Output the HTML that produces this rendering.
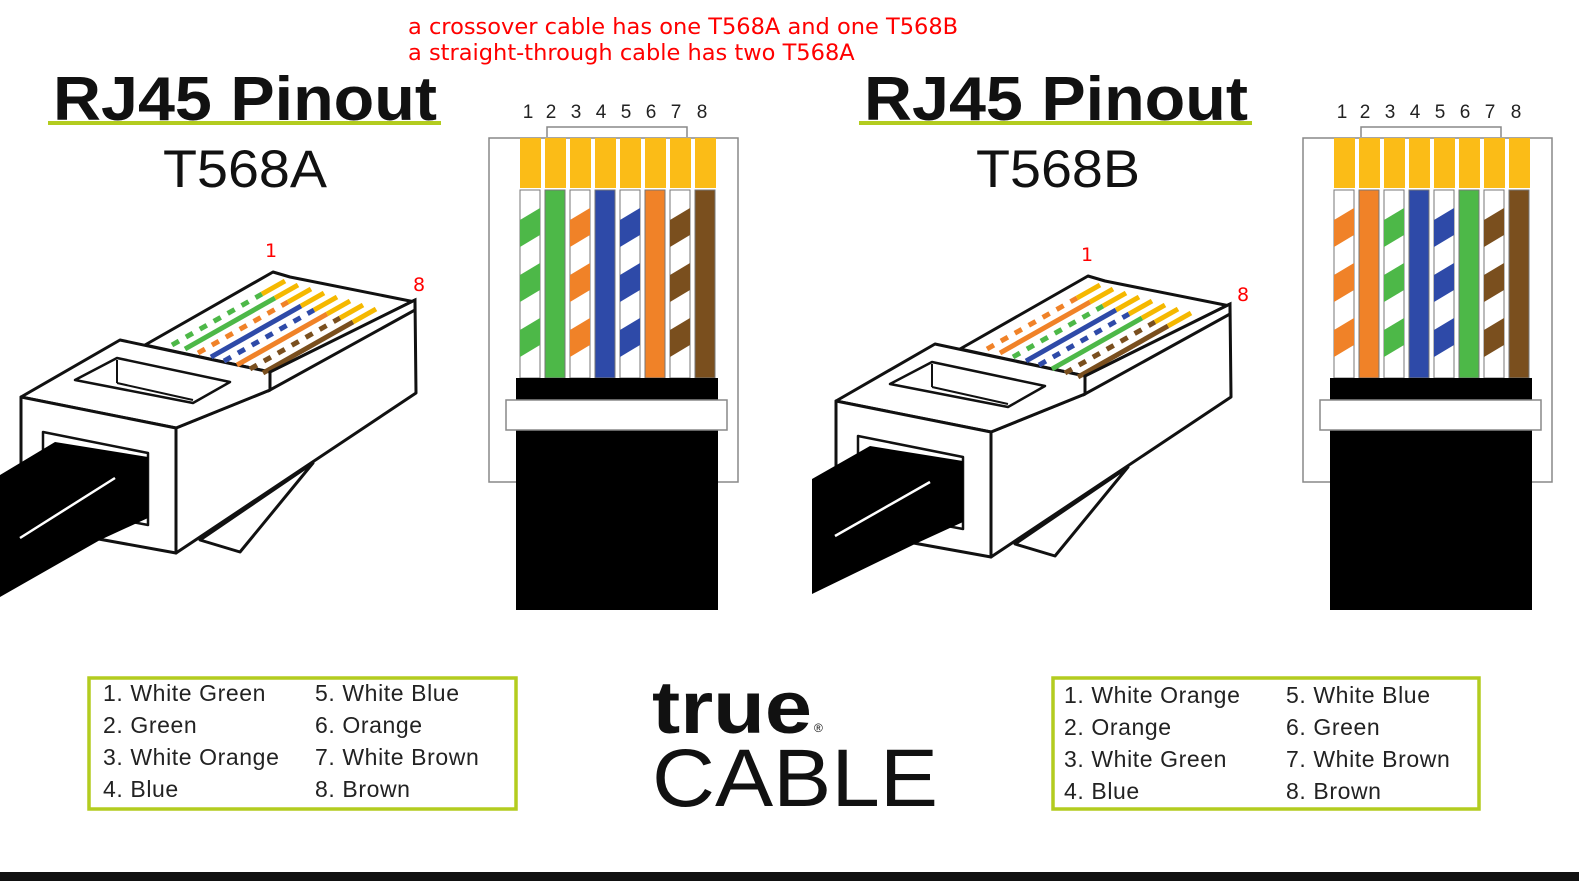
<!DOCTYPE html>
<html><head><meta charset="utf-8"><style>
html,body{margin:0;padding:0;background:#fff}
svg{display:block}
</style></head><body>
<svg width="1579" height="881" viewBox="0 0 1579 881" xmlns="http://www.w3.org/2000/svg" font-family="'Liberation Sans', sans-serif">
<rect width="1579" height="881" fill="#fff"/>
<text x="408" y="34" font-family="'DejaVu Sans', sans-serif" font-size="22.5" fill="#ff0000">a crossover cable has one T568A and one T568B</text>
<text x="408" y="60" font-family="'DejaVu Sans', sans-serif" font-size="22.5" fill="#ff0000">a straight-through cable has two T568A</text>

<g>
<text x="53" y="120" font-size="62" font-weight="bold" textLength="384" lengthAdjust="spacingAndGlyphs" fill="#111">RJ45 Pinout</text>
<rect x="48" y="121" width="393" height="4" fill="#b3cc1f"/>
<text x="163" y="187" font-size="53" textLength="164" lengthAdjust="spacingAndGlyphs" fill="#111">T568A</text>
</g>
<g transform="translate(811,0)">
<text x="53" y="120" font-size="62" font-weight="bold" textLength="384" lengthAdjust="spacingAndGlyphs" fill="#111">RJ45 Pinout</text>
<rect x="48" y="121" width="393" height="4" fill="#b3cc1f"/>
<text x="165" y="187" font-size="53" textLength="164" lengthAdjust="spacingAndGlyphs" fill="#111">T568B</text>
</g>

<g stroke="#111" stroke-width="3" stroke-linejoin="round">
  <polygon points="200,540 313,463 240,552" fill="#fff"/>
  <polygon points="145,345 273,272 290,277 415,302 270,372" fill="#fff"/>
  <polygon points="176,428 270,390 270,372 415,300 416,393 176,553" fill="#fff"/>
  <polygon points="21,397 120,340 270,372 270,390 176,428" fill="#fff"/>
  <polygon points="21,397 176,428 176,553 21,525" fill="#fff"/>
  <polygon points="75,380 117,358 230,382 193,403" fill="#fff" stroke-width="2.5"/>
  <line x1="117" y1="360" x2="117" y2="383" stroke-width="2"/>
  <line x1="117" y1="383" x2="193" y2="400" stroke-width="2"/>
  <polygon points="43,432 148,453 148,525 43,505" fill="#fff" stroke-width="2.5"/>
</g>
<g stroke-width="5" fill="none">
  <line x1="172" y1="345" x2="262" y2="294" stroke="#fff"/><line x1="172" y1="345" x2="262" y2="294" stroke="#4db848" stroke-dasharray="8,8"/>
  <line x1="185" y1="349" x2="275" y2="298" stroke="#4db848"/>
  <line x1="198" y1="353" x2="288" y2="302" stroke="#fff"/><line x1="198" y1="353" x2="288" y2="302" stroke="#f08228" stroke-dasharray="8,8"/>
  <line x1="211" y1="357" x2="301" y2="306" stroke="#2e4aa8"/>
  <line x1="224" y1="361" x2="314" y2="310" stroke="#fff"/><line x1="224" y1="361" x2="314" y2="310" stroke="#2e4aa8" stroke-dasharray="8,8"/>
  <line x1="237" y1="365" x2="327" y2="314" stroke="#f08228"/>
  <line x1="250" y1="369" x2="340" y2="318" stroke="#fff"/><line x1="250" y1="369" x2="340" y2="318" stroke="#7a4f1e" stroke-dasharray="8,8"/>
  <line x1="263" y1="373" x2="353" y2="322" stroke="#7a4f1e"/>
  <g stroke="#f5b800">
    <line x1="262" y1="294" x2="285" y2="281"/><line x1="275" y1="298" x2="298" y2="285"/><line x1="288" y1="302" x2="311" y2="289"/><line x1="301" y1="306" x2="324" y2="293"/><line x1="314" y1="310" x2="337" y2="297"/><line x1="327" y1="314" x2="350" y2="301"/><line x1="340" y1="318" x2="363" y2="305"/><line x1="353" y1="322" x2="376" y2="309"/>
  </g>
</g>
<polygon points="270,372 270,390 415,310 415,300" fill="#fff" stroke="#111" stroke-width="3"/>
<polygon points="0,475 55,442 148,457 148,518 100,540 0,597" fill="#000"/>
<line x1="20" y1="538" x2="115" y2="478" stroke="#fff" stroke-width="2.5"/>
<text x="265" y="257" font-family="'DejaVu Sans', sans-serif" font-size="19" fill="#ff0000">1</text>
<text x="413" y="291" font-family="'DejaVu Sans', sans-serif" font-size="19" fill="#ff0000">8</text>

<g transform="translate(815,4)">
<g stroke="#111" stroke-width="3" stroke-linejoin="round">
  <polygon points="200,540 313,463 240,552" fill="#fff"/>
  <polygon points="145,345 273,272 290,277 415,302 270,372" fill="#fff"/>
  <polygon points="176,428 270,390 270,372 415,300 416,393 176,553" fill="#fff"/>
  <polygon points="21,397 120,340 270,372 270,390 176,428" fill="#fff"/>
  <polygon points="21,397 176,428 176,553 21,525" fill="#fff"/>
  <polygon points="75,380 117,358 230,382 193,403" fill="#fff" stroke-width="2.5"/>
  <line x1="117" y1="360" x2="117" y2="383" stroke-width="2"/>
  <line x1="117" y1="383" x2="193" y2="400" stroke-width="2"/>
  <polygon points="43,432 148,453 148,525 43,505" fill="#fff" stroke-width="2.5"/>
</g>
<g stroke-width="5" fill="none">
  <line x1="172" y1="345" x2="262" y2="294" stroke="#fff"/><line x1="172" y1="345" x2="262" y2="294" stroke="#f08228" stroke-dasharray="8,8"/>
  <line x1="185" y1="349" x2="275" y2="298" stroke="#f08228"/>
  <line x1="198" y1="353" x2="288" y2="302" stroke="#fff"/><line x1="198" y1="353" x2="288" y2="302" stroke="#4db848" stroke-dasharray="8,8"/>
  <line x1="211" y1="357" x2="301" y2="306" stroke="#2e4aa8"/>
  <line x1="224" y1="361" x2="314" y2="310" stroke="#fff"/><line x1="224" y1="361" x2="314" y2="310" stroke="#2e4aa8" stroke-dasharray="8,8"/>
  <line x1="237" y1="365" x2="327" y2="314" stroke="#4db848"/>
  <line x1="250" y1="369" x2="340" y2="318" stroke="#fff"/><line x1="250" y1="369" x2="340" y2="318" stroke="#7a4f1e" stroke-dasharray="8,8"/>
  <line x1="263" y1="373" x2="353" y2="322" stroke="#7a4f1e"/>
  <g stroke="#f5b800">
    <line x1="262" y1="294" x2="285" y2="281"/><line x1="275" y1="298" x2="298" y2="285"/><line x1="288" y1="302" x2="311" y2="289"/><line x1="301" y1="306" x2="324" y2="293"/><line x1="314" y1="310" x2="337" y2="297"/><line x1="327" y1="314" x2="350" y2="301"/><line x1="340" y1="318" x2="363" y2="305"/><line x1="353" y1="322" x2="376" y2="309"/>
  </g>
</g>
<polygon points="270,372 270,390 415,310 415,300" fill="#fff" stroke="#111" stroke-width="3"/>
<polygon points="-3,475 55,442 148,457 148,518 100,540 -3,590" fill="#000"/>
<line x1="20" y1="532" x2="115" y2="478" stroke="#fff" stroke-width="2.5"/>
</g>
<text x="1081" y="261" font-family="'DejaVu Sans', sans-serif" font-size="19" fill="#ff0000">1</text>
<text x="1237" y="301" font-family="'DejaVu Sans', sans-serif" font-size="19" fill="#ff0000">8</text>

<g>
<rect x="489" y="138" width="249" height="344" fill="#fff" stroke="#888" stroke-width="1.5"/>
<polyline points="547,137 547,127 687,127 687,137" fill="none" stroke="#888" stroke-width="1.5"/>
<g font-size="19" fill="#222" text-anchor="middle">
<text x="528" y="118">1</text><text x="551" y="118">2</text><text x="576" y="118">3</text><text x="601" y="118">4</text><text x="626" y="118">5</text><text x="651" y="118">6</text><text x="676" y="118">7</text><text x="702" y="118">8</text>
</g>
<g fill="#fbbc17">
<rect x="520" y="138" width="21" height="50"/><rect x="545" y="138" width="21" height="50"/><rect x="570" y="138" width="21" height="50"/><rect x="595" y="138" width="21" height="50"/><rect x="620" y="138" width="21" height="50"/><rect x="645" y="138" width="21" height="50"/><rect x="670" y="138" width="21" height="50"/><rect x="695" y="138" width="21" height="50"/>
</g>
<g stroke="#777" stroke-width="1">
<rect x="520" y="190" width="20" height="188" fill="#fff"/>
<rect x="545" y="190" width="20" height="188" fill="#4db848"/>
<rect x="570" y="190" width="20" height="188" fill="#fff"/>
<rect x="595" y="190" width="20" height="188" fill="#2e4aa8"/>
<rect x="620" y="190" width="20" height="188" fill="#fff"/>
<rect x="645" y="190" width="20" height="188" fill="#f08228"/>
<rect x="670" y="190" width="20" height="188" fill="#fff"/>
<rect x="695" y="190" width="20" height="188" fill="#7a4f1e"/>
</g>
<g fill="#4db848"><polygon points="520,220 540,208 540,235 520,247"/><polygon points="520,275 540,263 540,290 520,302"/><polygon points="520,330 540,318 540,345 520,357"/></g>
<g fill="#f08228"><polygon points="570,220 590,208 590,235 570,247"/><polygon points="570,275 590,263 590,290 570,302"/><polygon points="570,330 590,318 590,345 570,357"/></g>
<g fill="#2e4aa8"><polygon points="620,220 640,208 640,235 620,247"/><polygon points="620,275 640,263 640,290 620,302"/><polygon points="620,330 640,318 640,345 620,357"/></g>
<g fill="#7a4f1e"><polygon points="670,220 690,208 690,235 670,247"/><polygon points="670,275 690,263 690,290 670,302"/><polygon points="670,330 690,318 690,345 670,357"/></g>
<rect x="516" y="378" width="202" height="232" fill="#000"/>
<rect x="506" y="400" width="221" height="30" fill="#fff" stroke="#888" stroke-width="1.5"/>
</g>

<g transform="translate(814,0)">
<rect x="489" y="138" width="249" height="344" fill="#fff" stroke="#888" stroke-width="1.5"/>
<polyline points="547,137 547,127 687,127 687,137" fill="none" stroke="#888" stroke-width="1.5"/>
<g font-size="19" fill="#222" text-anchor="middle">
<text x="528" y="118">1</text><text x="551" y="118">2</text><text x="576" y="118">3</text><text x="601" y="118">4</text><text x="626" y="118">5</text><text x="651" y="118">6</text><text x="676" y="118">7</text><text x="702" y="118">8</text>
</g>
<g fill="#fbbc17">
<rect x="520" y="138" width="21" height="50"/><rect x="545" y="138" width="21" height="50"/><rect x="570" y="138" width="21" height="50"/><rect x="595" y="138" width="21" height="50"/><rect x="620" y="138" width="21" height="50"/><rect x="645" y="138" width="21" height="50"/><rect x="670" y="138" width="21" height="50"/><rect x="695" y="138" width="21" height="50"/>
</g>
<g stroke="#777" stroke-width="1">
<rect x="520" y="190" width="20" height="188" fill="#fff"/>
<rect x="545" y="190" width="20" height="188" fill="#f08228"/>
<rect x="570" y="190" width="20" height="188" fill="#fff"/>
<rect x="595" y="190" width="20" height="188" fill="#2e4aa8"/>
<rect x="620" y="190" width="20" height="188" fill="#fff"/>
<rect x="645" y="190" width="20" height="188" fill="#4db848"/>
<rect x="670" y="190" width="20" height="188" fill="#fff"/>
<rect x="695" y="190" width="20" height="188" fill="#7a4f1e"/>
</g>
<g fill="#f08228"><polygon points="520,220 540,208 540,235 520,247"/><polygon points="520,275 540,263 540,290 520,302"/><polygon points="520,330 540,318 540,345 520,357"/></g>
<g fill="#4db848"><polygon points="570,220 590,208 590,235 570,247"/><polygon points="570,275 590,263 590,290 570,302"/><polygon points="570,330 590,318 590,345 570,357"/></g>
<g fill="#2e4aa8"><polygon points="620,220 640,208 640,235 620,247"/><polygon points="620,275 640,263 640,290 620,302"/><polygon points="620,330 640,318 640,345 620,357"/></g>
<g fill="#7a4f1e"><polygon points="670,220 690,208 690,235 670,247"/><polygon points="670,275 690,263 690,290 670,302"/><polygon points="670,330 690,318 690,345 670,357"/></g>
<rect x="516" y="378" width="202" height="232" fill="#000"/>
<rect x="506" y="400" width="221" height="30" fill="#fff" stroke="#888" stroke-width="1.5"/>
</g>

<rect x="89" y="678" width="427" height="131" fill="#fff" stroke="#b3cc1f" stroke-width="3.5"/>
<g font-size="23" fill="#222" letter-spacing="0.6">
<text x="103" y="701">1. White Green</text><text x="103" y="733">2. Green</text><text x="103" y="765">3. White Orange</text><text x="103" y="797">4. Blue</text>
<text x="315" y="701">5. White Blue</text><text x="315" y="733">6. Orange</text><text x="315" y="765">7. White Brown</text><text x="315" y="797">8. Brown</text>
</g>
<rect x="1053" y="678" width="426" height="131" fill="#fff" stroke="#b3cc1f" stroke-width="3.5"/>
<g font-size="23" fill="#222" letter-spacing="0.6">
<text x="1064" y="703">1. White Orange</text><text x="1064" y="735">2. Orange</text><text x="1064" y="767">3. White Green</text><text x="1064" y="799">4. Blue</text>
<text x="1286" y="703">5. White Blue</text><text x="1286" y="735">6. Green</text><text x="1286" y="767">7. White Brown</text><text x="1286" y="799">8. Brown</text>
</g>

<text x="652" y="733" font-size="74" font-weight="bold" textLength="160" lengthAdjust="spacingAndGlyphs" fill="#111">true</text>
<text x="814" y="732" font-size="12" fill="#111">®</text>
<text x="652" y="806" font-size="82" textLength="286" lengthAdjust="spacingAndGlyphs" fill="#111">CABLE</text>

<rect x="0" y="872" width="1579" height="9" fill="#111"/>
</svg>
</body></html>
